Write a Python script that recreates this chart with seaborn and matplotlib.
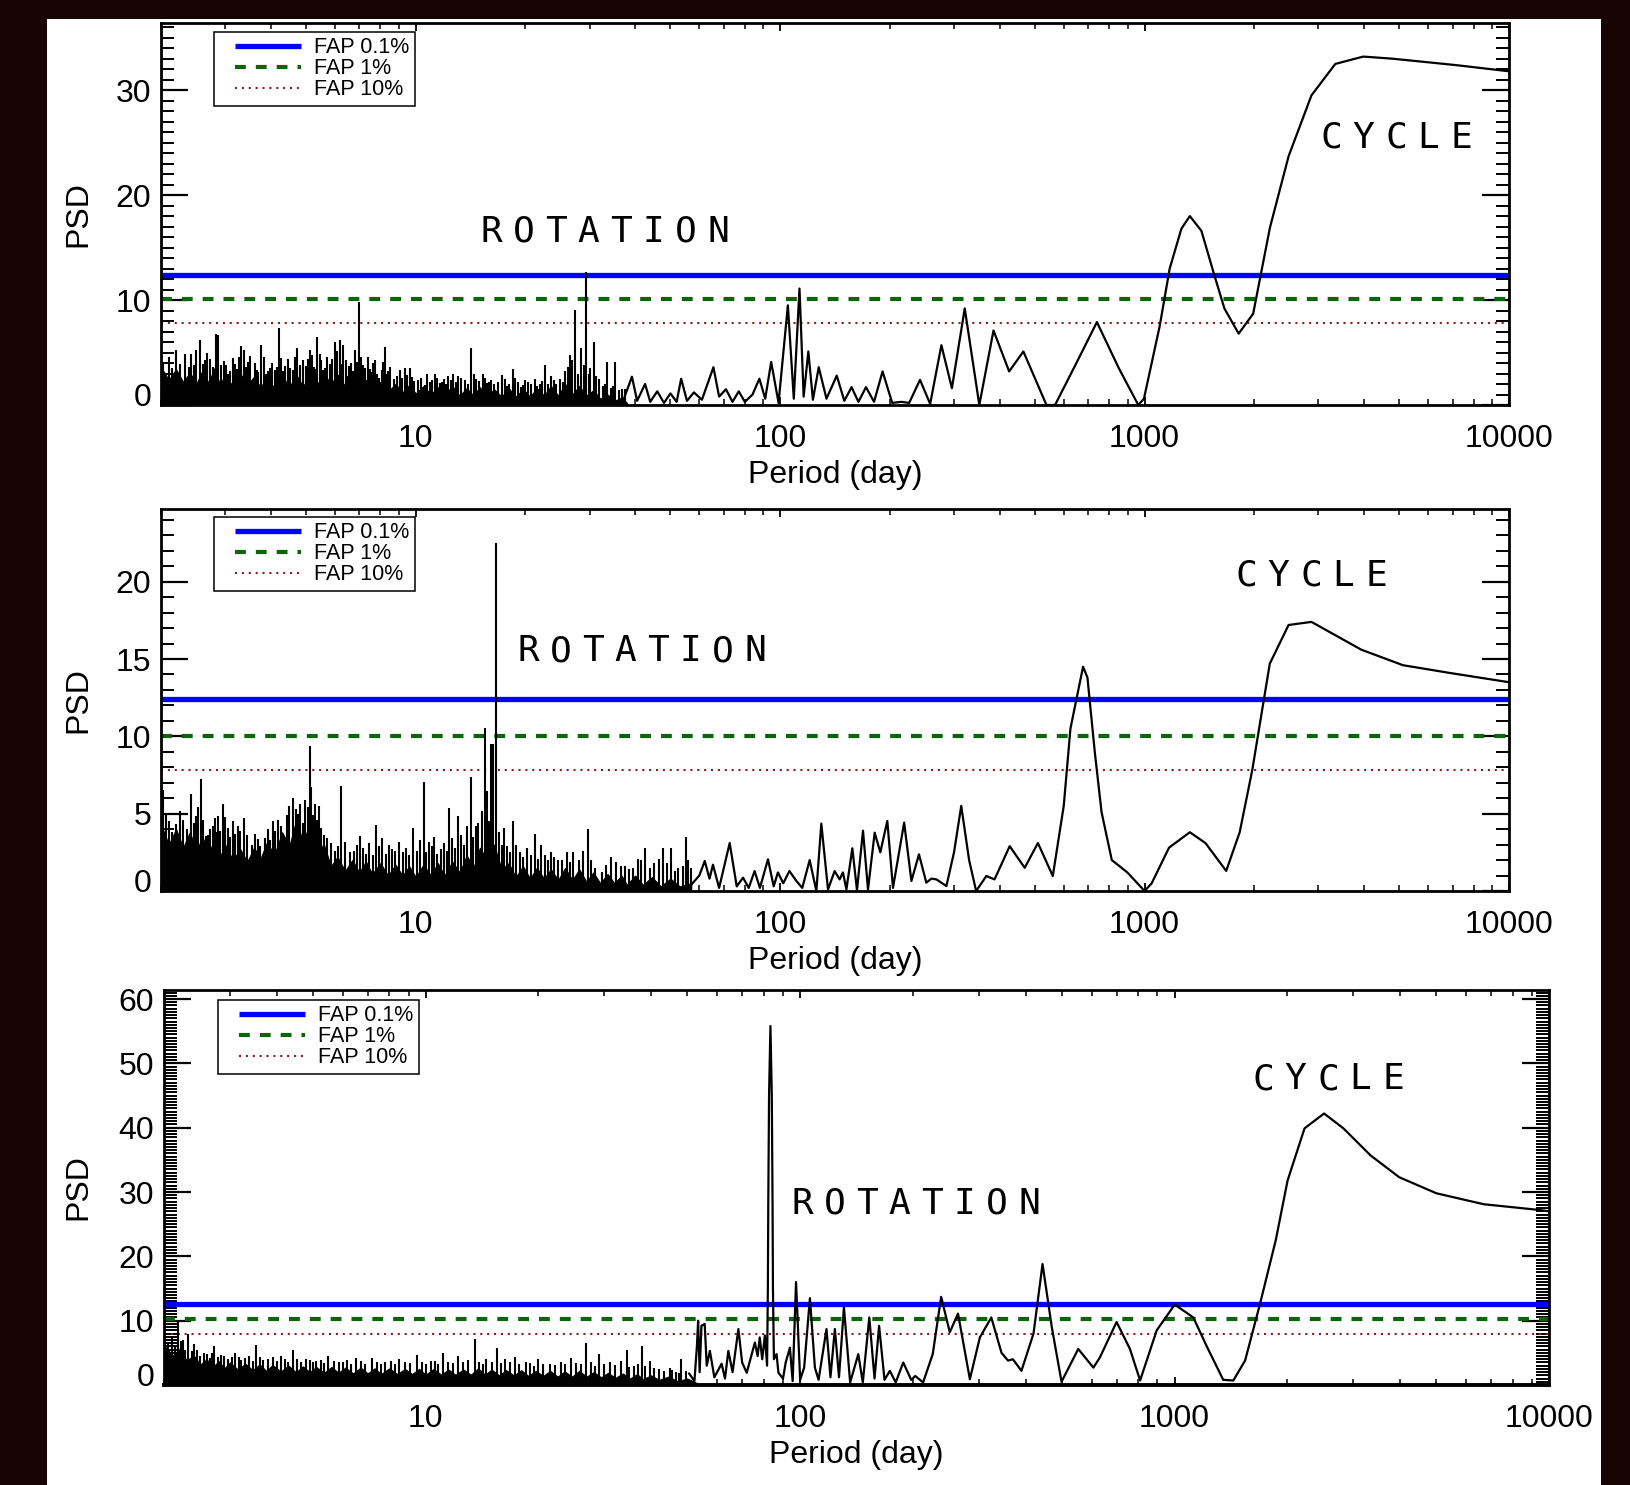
import numpy as np
import matplotlib
matplotlib.use("Agg")
import matplotlib.pyplot as plt
import matplotlib.ticker as mticker
from matplotlib.transforms import ScaledTranslation
from matplotlib.patches import Rectangle
from matplotlib.lines import Line2D
from matplotlib.legend_handler import HandlerLine2D
import seaborn as sns

sns.set_style("white", {"axes.edgecolor": "black", "text.color": "black",
                        "xtick.color": "black", "ytick.color": "black",
                        "axes.labelcolor": "black"})
plt.rcParams["font.family"] = ["Liberation Sans", "DejaVu Sans"]

# ---------------- data ----------------
x_ticks = [10, 100, 1000, 10000]
x_tick_labels = ["10", "100", "1000", "10000"]
fap_labels = ["FAP 0.1%", "FAP 1%", "FAP 10%"]

# FAP thresholds (0.1%, 1%, 10%) per panel
p1_fap = [12.4, 10.1, 7.8]
p2_fap = [12.4, 10.0, 7.8]
p3_fap = [12.6, 10.2, 8.0]

p1_yticks = [0, 10, 20, 30]
p2_yticks = [0, 5, 10, 15, 20]
p3_yticks = [0, 10, 20, 30, 40, 50, 60]

# dense short-period noise: jagged top of the black mass (period, PSD)
p1_band = [(2.0, 3.6), (2.1, 2.4), (2.2, 3.4), (2.3, 2.2), (2.4, 3.1), (2.5, 2.0), (2.6, 3.3),
           (2.7, 2.1), (2.8, 3.5), (2.9, 2.0), (3.0, 2.8), (3.15, 1.8), (3.3, 3.0), (3.45, 1.9),
           (3.6, 2.7), (3.75, 1.7), (3.9, 2.6), (4.1, 1.6), (4.3, 2.8), (4.5, 1.7), (4.7, 2.9),
           (4.9, 1.8), (5.1, 2.6), (5.35, 1.9), (5.6, 3.0), (5.85, 2.0), (6.1, 2.9), (6.4, 1.8),
           (6.7, 2.6), (7.0, 1.7), (7.3, 2.4), (7.6, 1.5), (8.0, 2.2), (8.4, 1.3), (8.8, 2.0),
           (9.2, 1.2), (9.6, 1.9), (10.0, 1.1), (10.5, 1.8), (11.0, 1.0), (11.5, 1.7), (12.0, 1.0),
           (12.6, 1.8), (13.2, 0.9), (13.8, 1.6), (14.4, 0.9), (15.0, 1.7), (15.7, 0.8), (16.4, 1.5),
           (17.2, 0.8), (18.0, 1.6), (18.8, 0.8), (19.7, 1.5), (20.6, 0.8), (21.5, 1.6), (22.5, 0.9),
           (23.5, 1.8), (24.6, 0.9), (25.7, 2.0), (26.9, 1.0), (28.1, 1.8), (29.4, 0.9), (30.7, 1.4),
           (32.1, 0.6), (33.6, 1.0), (35.1, 0.4), (36.7, 0.7), (38.0, 0.2)]
p2_band = [(2.0, 4.3), (2.1, 3.0), (2.2, 4.0), (2.3, 2.8), (2.4, 3.8), (2.5, 2.6), (2.6, 3.5),
           (2.7, 2.4), (2.8, 3.3), (2.9, 2.2), (3.0, 3.0), (3.15, 2.0), (3.3, 2.7), (3.45, 1.9),
           (3.6, 2.8), (3.75, 2.1), (3.9, 3.1), (4.1, 2.4), (4.3, 3.8), (4.5, 2.9), (4.7, 4.6),
           (4.9, 3.2), (5.1, 4.2), (5.35, 2.6), (5.6, 3.0), (5.85, 1.6), (6.1, 2.2), (6.4, 1.3),
           (6.7, 2.0), (7.0, 1.2), (7.3, 1.9), (7.6, 1.1), (8.0, 1.8), (8.4, 1.0), (8.8, 1.7),
           (9.2, 1.0), (9.6, 1.6), (10.0, 0.9), (10.5, 1.7), (11.0, 1.0), (11.5, 1.8), (12.0, 1.0),
           (12.6, 1.9), (13.2, 1.2), (13.8, 2.3), (14.4, 1.5), (15.0, 2.8), (15.7, 2.0), (16.4, 3.0),
           (17.2, 1.4), (18.0, 1.8), (18.8, 0.9), (19.7, 1.6), (20.6, 0.8), (21.5, 1.5), (22.5, 0.8),
           (23.5, 1.4), (24.6, 0.7), (25.7, 1.5), (26.9, 0.7), (28.1, 1.4), (29.4, 0.6), (30.7, 1.2),
           (32.1, 0.5), (33.6, 1.1), (35.1, 0.5), (36.7, 1.0), (38.0, 0.4), (40.0, 1.0), (42.0, 0.4),
           (44.5, 0.9), (47.0, 0.3), (50.0, 0.8), (53.0, 0.3), (57.0, 0.5)]
p3_band = [(2.0, 6.5), (2.1, 4.5), (2.2, 5.6), (2.3, 3.8), (2.4, 4.6), (2.5, 3.2), (2.6, 4.0),
           (2.7, 2.8), (2.8, 3.7), (2.9, 2.6), (3.0, 3.5), (3.15, 2.4), (3.3, 3.3), (3.45, 2.3),
           (3.6, 3.2), (3.75, 2.2), (3.9, 3.1), (4.1, 2.1), (4.3, 3.0), (4.5, 2.0), (4.7, 2.9),
           (4.9, 2.0), (5.1, 2.8), (5.35, 1.9), (5.6, 2.8), (5.85, 1.9), (6.1, 2.7), (6.4, 1.8),
           (6.7, 2.7), (7.0, 1.8), (7.3, 2.6), (7.6, 1.7), (8.0, 2.6), (8.4, 1.7), (8.8, 2.5),
           (9.2, 1.7), (9.6, 2.5), (10.0, 1.6), (10.5, 2.5), (11.0, 1.6), (11.5, 2.4), (12.0, 1.6),
           (12.6, 2.4), (13.2, 1.6), (13.8, 2.6), (14.4, 1.6), (15.0, 2.4), (15.7, 1.5), (16.4, 2.3),
           (17.2, 1.5), (18.0, 2.3), (18.8, 1.4), (19.7, 2.2), (20.6, 1.4), (21.5, 2.2), (22.5, 1.3),
           (23.5, 2.1), (24.6, 1.3), (25.7, 2.2), (26.9, 1.3), (28.1, 2.0), (29.4, 1.2), (30.7, 1.9),
           (32.1, 1.1), (33.6, 1.8), (35.1, 1.0), (36.7, 1.7), (38.0, 0.9), (40.0, 1.5), (42.0, 0.8),
           (44.5, 1.3), (47.0, 0.6), (50.0, 1.0), (53.0, 0.3)]

# individual spikes in the short-period noise (period, PSD)
p1_spikes = [(2.03, 4.0), (2.10, 4.6), (2.15, 3.5), (2.205, 5.2), (2.26, 3.9), (2.324, 4.9),
             (2.38, 3.6), (2.424, 4.9), (2.47, 3.8), (2.502, 5.2), (2.555, 6.2), (2.60, 3.9),
             (2.637, 4.3), (2.68, 5.0), (2.721, 4.4), (2.78, 3.6), (2.827, 6.8), (2.869, 6.7),
             (2.93, 3.8), (2.98, 4.2), (3.023, 3.8), (3.06, 3.0), (3.09, 3.2), (3.153, 4.5),
             (3.19, 3.9), (3.23, 3.4), (3.27, 4.6), (3.311, 5.6), (3.381, 5.2), (3.42, 3.6),
             (3.467, 4.1), (3.52, 4.7), (3.617, 4.0), (3.66, 3.3), (3.70, 3.1), (3.773, 5.7),
             (3.83, 4.6), (3.88, 3.0), (3.93, 3.2), (3.976, 3.5), (4.03, 4.0), (4.10, 3.3),
             (4.16, 3.6), (4.209, 7.35), (4.27, 4.5), (4.325, 3.2), (4.39, 3.7), (4.464, 4.4),
             (4.53, 3.5), (4.60, 3.3), (4.67, 4.6), (4.735, 5.4), (4.82, 3.8), (4.908, 4.3),
             (5.0, 3.7), (5.06, 4.4), (5.12, 5.2), (5.19, 4.8), (5.25, 3.6), (5.31, 3.4),
             (5.362, 6.5), (5.45, 4.9), (5.51, 4.3), (5.57, 3.3), (5.627, 3.5), (5.70, 4.6),
             (5.80, 3.9), (5.88, 4.4), (5.994, 6.0), (6.09, 5.1), (6.186, 6.2), (6.25, 3.9),
             (6.317, 5.7), (6.42, 4.3), (6.52, 2.8), (6.58, 3.7), (6.65, 4.0), (6.72, 3.2),
             (6.801, 5.2), (6.88, 4.1), (6.99, 9.8), (7.08, 4.6), (7.17, 3.8), (7.28, 3.5),
             (7.399, 4.6), (7.47, 3.4), (7.55, 3.1), (7.63, 4.0), (7.718, 4.3), (7.84, 3.0),
             (7.95, 2.6), (8.06, 3.3), (8.14, 4.1), (8.222, 5.5), (8.31, 3.0), (8.397, 3.2),
             (8.52, 3.6), (8.70, 2.5), (8.87, 2.8), (9.041, 3.3), (9.18, 2.6), (9.329, 3.5),
             (9.47, 2.9), (9.627, 3.5), (9.76, 2.7), (9.90, 2.3), (10.15, 2.4), (10.35, 2.6),
             (10.58, 1.9), (10.76, 3.0), (10.95, 2.2), (11.10, 2.4), (11.27, 3.0), (11.46, 2.6),
             (11.64, 2.1), (11.80, 2.2), (11.95, 2.5), (12.1, 2.0), (12.27, 2.8), (12.47, 2.4),
             (12.66, 3.0), (12.86, 2.2), (13.07, 2.8), (13.33, 2.6), (13.63, 2.4), (13.9, 2.0),
             (14.21, 5.4), (14.45, 3.0), (14.67, 2.5), (14.95, 2.3), (15.30, 3.0), (15.5, 2.6),
             (15.70, 2.1), (15.92, 2.2), (16.13, 2.4), (16.45, 2.0), (16.82, 2.2), (17.2, 2.9),
             (17.54, 2.5), (17.8, 1.8), (18.00, 2.0), (18.49, 3.4), (18.78, 2.6), (19.09, 2.2),
             (19.4, 1.7), (19.70, 1.9), (20.0, 2.4), (20.33, 2.2), (20.75, 2.0), (21.21, 2.5),
             (21.55, 1.8), (21.90, 2.0), (22.2, 2.3), (22.59, 3.8), (23.1, 2.0), (23.56, 2.8),
             (23.9, 2.4), (24.20, 2.0), (24.84, 2.5), (25.3, 2.2), (25.70, 3.2), (26.1, 3.6),
             (26.50, 4.8), (26.9, 4.3), (27.30, 9.1), (27.90, 3.0), (28.40, 5.4), (28.9, 3.8),
             (29.40, 12.7), (29.8, 3.0), (30.00, 3.5), (30.80, 6.0), (31.2, 2.8), (31.80, 2.5),
             (32.60, 1.8), (33.0, 2.0), (33.40, 4.1), (34.30, 1.6), (34.8, 1.8), (35.30, 4.1),
             (36.20, 1.4), (36.8, 1.5), (37.50, 1.5)]
p2_spikes = [(2.02, 6.5), (2.06, 5.0), (2.1, 4.5), (2.14, 3.8), (2.2, 4.3), (2.26, 5.2), (2.3, 4.6),
             (2.36, 4.0), (2.424, 6.26), (2.46, 4.4), (2.5, 4.85), (2.53, 5.4), (2.571, 7.23),
             (2.61, 4.6), (2.65, 3.56), (2.69, 3.6), (2.73, 4.0), (2.77, 4.2), (2.81, 4.75),
             (2.84, 3.8), (2.87, 4.85), (2.91, 3.9), (2.95, 5.61), (3.00, 4.8), (3.05, 4.1),
             (3.10, 3.5), (3.15, 4.53), (3.20, 3.7), (3.25, 4.2), (3.30, 3.9), (3.381, 4.7),
             (3.45, 3.6), (3.55, 3.0), (3.62, 3.7), (3.68, 3.34), (3.75, 2.9), (3.85, 3.4),
             (3.92, 4.0), (3.98, 3.3), (4.05, 4.53), (4.12, 3.9), (4.19, 4.57), (4.27, 4.2),
             (4.35, 3.2), (4.42, 4.9), (4.50, 5.5), (4.6, 6.04), (4.68, 5.3), (4.75, 5.0),
             (4.82, 5.6), (4.9, 4.4), (4.98, 5.9), (5.05, 5.4), (5.12, 9.39), (5.17, 6.7),
             (5.24, 4.9), (5.3, 5.6), (5.36, 4.6), (5.42, 5.5), (5.50, 4.1), (5.6, 3.6),
             (5.7, 3.45), (5.85, 3.1), (6.0, 2.6), (6.12, 2.9), (6.25, 6.8), (6.4, 3.2),
             (6.6, 2.5), (6.75, 2.6), (6.9, 3.0), (7.05, 3.56), (7.17, 2.8), (7.3, 2.4),
             (7.45, 3.1), (7.62, 2.3), (7.8, 4.27), (7.95, 2.9), (8.1, 3.4), (8.3, 2.4),
             (8.45, 3.0), (8.6, 2.7), (8.8, 2.6), (9.0, 3.2), (9.2, 2.5), (9.4, 2.8), (9.6, 2.3),
             (9.83, 4.1), (10.1, 2.6), (10.3, 3.3), (10.54, 7.08), (10.7, 2.5), (10.9, 3.2),
             (11.05, 2.9), (11.2, 3.5), (11.45, 2.4), (11.7, 2.7), (11.95, 3.1), (12.15, 2.6),
             (12.34, 5.35), (12.6, 3.4), (12.85, 2.8), (13.07, 4.85), (13.3, 3.6), (13.6, 3.0),
             (13.8, 4.2), (14.16, 7.38), (14.35, 3.5), (14.6, 4.2), (14.85, 4.4), (15.2, 5.2),
             (15.46, 10.57), (15.7, 6.46), (15.9, 4.5), (16.06, 9.5), (16.2, 5.0), (16.3, 9.5),
             (16.64, 22.5), (16.9, 3.8), (17.2, 3.0), (17.47, 4.1), (17.8, 2.9), (18.2, 2.5),
             (18.49, 4.5), (18.8, 3.0), (19.3, 2.5), (19.7, 2.2), (20.2, 2.8), (20.7, 2.3),
             (21.21, 3.7), (21.7, 2.1), (22.12, 3.0), (22.7, 2.3), (23.0, 2.0), (23.5, 2.5),
             (24.0, 2.2), (24.57, 2.0), (25.2, 2.0), (26.0, 2.5), (26.5, 1.9), (27.0, 2.5),
             (28.0, 2.0), (28.8, 2.6), (29.7, 4.0), (30.3, 2.0), (31.0, 1.5), (32.5, 1.2),
             (33.3, 1.7), (34.4, 2.2), (35.5, 1.9), (36.5, 1.6), (37.5, 1.6), (38.5, 1.4),
             (39.5, 1.5), (40.8, 2.05), (41.5, 2.0), (42.5, 2.8), (44.0, 1.5), (45.0, 1.8),
             (46.5, 2.1), (47.7, 2.8), (49.0, 1.8), (50.2, 2.8), (51.5, 1.3), (52.5, 1.5),
             (54.0, 1.6), (55.0, 3.5), (56.0, 2.0), (57.0, 1.5)]
p3_spikes = [(2.02, 5.5), (2.05, 6.5), (2.1, 7.5), (2.14, 6.0), (2.18, 9.8), (2.22, 6.8), (2.25, 7.0),
             (2.28, 5.5), (2.32, 8.0), (2.38, 5.3), (2.41, 6.3), (2.45, 5.5), (2.5, 4.5), (2.55, 5.0),
             (2.6, 4.8), (2.65, 4.2), (2.68, 5.0), (2.72, 6.0), (2.78, 4.3), (2.84, 4.7), (2.9, 4.5),
             (2.96, 4.0), (3.03, 4.3), (3.1, 5.0), (3.17, 4.4), (3.22, 3.9), (3.3, 4.2), (3.38, 4.5),
             (3.45, 3.8), (3.52, 6.2), (3.6, 4.3), (3.68, 3.9), (3.8, 4.0), (3.9, 4.4), (4.0, 3.8),
             (4.1, 4.5), (4.2, 4.1), (4.3, 3.6), (4.42, 5.5), (4.52, 4.0), (4.65, 3.5), (4.8, 4.0),
             (4.9, 3.9), (5.0, 3.5), (5.1, 3.8), (5.25, 3.9), (5.35, 3.4), (5.5, 4.5), (5.68, 3.8),
             (5.85, 3.5), (6.0, 3.6), (6.15, 3.9), (6.3, 3.3), (6.5, 4.2), (6.7, 3.8), (6.9, 3.3),
             (7.17, 4.2), (7.4, 3.6), (7.6, 3.2), (7.8, 3.5), (8.1, 3.7), (8.3, 3.2), (8.5, 4.0),
             (8.8, 3.6), (9.1, 3.4), (9.5, 4.7), (9.8, 3.6), (10.0, 3.2), (10.3, 3.8), (10.6, 3.7),
             (10.8, 3.3), (11.1, 5.0), (11.5, 3.6), (11.8, 3.4), (12.2, 4.5), (12.6, 3.5),
             (13.0, 3.9), (13.5, 7.2), (13.9, 3.6), (14.2, 3.3), (14.5, 4.0), (15.0, 3.6),
             (15.5, 5.8), (15.9, 3.4), (16.3, 4.0), (16.8, 3.6), (17.3, 4.3), (17.8, 3.3),
             (18.5, 3.5), (19.0, 3.4), (19.5, 3.0), (20.0, 4.0), (20.6, 3.3), (21.5, 3.2),
             (22.2, 3.1), (23.0, 3.6), (23.6, 3.3), (24.5, 4.2), (25.2, 3.4), (26.0, 3.2),
             (26.8, 6.6), (27.6, 3.6), (28.3, 3.0), (29.0, 4.8), (30.0, 3.3), (31.0, 3.5),
             (32.0, 3.1), (33.3, 3.8), (34.4, 5.5), (35.0, 2.8), (36.0, 3.0), (36.8, 3.2),
             (37.7, 6.1), (38.6, 3.0), (39.6, 3.8), (40.8, 2.6), (42.0, 2.5), (43.4, 2.2),
             (44.8, 2.7), (45.6, 2.4), (46.5, 2.0), (47.4, 1.9), (48.2, 4.0), (49.5, 2.2)]

# resolved part of the periodogram (period, PSD)
p1_curve = [(37.0, 0.3), (39.2, 2.7), (40.5, 0.4), (42.6, 2.0), (44.0, 0.3), (46.0, 1.3), (48.0, 0.2),
            (50.0, 1.1), (52.0, 0.3), (53.5, 2.5), (55.5, 0.4), (58.0, 1.2), (61.0, 0.5), (65.6, 3.6),
            (68.0, 0.8), (71.0, 1.5), (74.0, 0.3), (77.0, 1.3), (80.0, 0.3), (84.0, 1.0), (87.7, 2.5),
            (91.0, 0.6), (94.5, 4.1), (99.0, 0.2), (105.0, 9.5), (109.0, 0.6), (113.0, 11.1),
            (116.0, 0.8), (119.5, 5.1), (123.0, 0.5), (127.6, 3.6), (134.0, 0.6), (143.0, 2.8),
            (150.0, 0.4), (157.0, 1.7), (164.0, 0.3), (172.0, 1.7), (181.0, 0.3), (191.0, 3.2),
            (203.0, 0.2), (215.0, 0.3), (226.0, 0.2), (242.0, 2.4), (258.0, 0.1), (277.0, 5.7),
            (296.0, 1.6), (321.0, 9.2), (352.0, 0.0), (385.0, 7.1), (425.0, 3.2), (465.0, 5.1),
            (538.0, 0.0), (568.0, 0.0), (650.0, 4.0), (740.0, 7.9), (850.0, 3.5), (961.0, 0.0),
            (996.0, 0.6), (1100.0, 7.5), (1172.0, 13.0), (1262.0, 16.8), (1331.0, 18.0),
            (1432.0, 16.6), (1550.0, 12.5), (1656.0, 9.2), (1812.0, 6.8), (1986.0, 8.7),
            (2208.0, 16.9), (2484.0, 23.7), (2870.0, 29.5), (3337.0, 32.5), (3981.0, 33.2),
            (4786.0, 33.0), (7096.0, 32.4), (10000.0, 31.8)]
p2_curve = [(57.0, 0.4), (60.0, 1.0), (62.1, 1.94), (64.0, 0.8), (65.4, 1.7), (68.0, 0.2), (72.7, 3.1),
            (76.0, 0.3), (79.1, 0.86), (82.0, 0.2), (85.1, 1.29), (88.0, 0.2), (92.6, 2.05), (96.0, 0.3),
            (98.6, 1.2), (102.0, 0.5), (106.0, 1.29), (110.8, 0.65), (115.0, 0.2), (120.5, 2.0),
            (125.7, 0.0), (129.7, 4.36), (135.3, 0.1), (141.1, 1.29), (145.6, 0.75), (148.7, 1.2),
            (152.0, 0.1), (157.8, 2.76), (162.5, 0.05), (168.8, 3.9), (174.2, 0.1), (181.7, 3.77),
            (188.3, 2.5), (196.8, 4.53), (204.0, 0.2), (218.9, 4.42), (229.2, 0.65), (240.4, 2.37),
            (251.8, 0.54), (260.0, 0.8), (268.4, 0.75), (285.9, 0.32), (300.0, 2.5), (314.0, 5.5),
            (330.0, 2.0), (345.0, 0.0), (368.0, 0.97), (387.5, 0.75), (426.5, 2.9), (468.9, 1.5),
            (509.7, 3.1), (560.0, 0.97), (600.0, 5.5), (626.0, 10.5), (678.0, 14.5), (697.0, 13.8),
            (730.0, 9.0), (762.0, 5.1), (813.0, 2.0), (897.0, 1.2), (1000.0, 0.0), (1046.0, 0.5),
            (1167.0, 2.8), (1331.0, 3.8), (1469.0, 3.1), (1675.0, 1.3), (1824.0, 3.8), (1974.0, 7.8),
            (2206.0, 14.7), (2484.0, 17.2), (2870.0, 17.4), (3936.0, 15.6), (5116.0, 14.6),
            (6876.0, 14.1), (10000.0, 13.5)]
p3_curve = [(50.5, 1.8), (52.2, 0.6), (53.0, 6.0), (53.4, 10.0), (53.9, 2.0), (54.5, 9.2), (55.6, 9.5),
            (56.3, 3.0), (57.4, 5.3), (59.0, 1.2), (61.7, 3.3), (63.0, 1.0), (64.3, 5.3), (66.0, 2.0),
            (68.4, 8.7), (70.0, 3.5), (72.0, 1.9), (75.7, 6.6), (77.0, 4.5), (78.0, 7.4), (79.2, 4.0),
            (80.5, 7.7), (81.6, 3.0), (82.0, 15.0), (82.2, 28.0), (82.6, 45.0), (83.3, 55.8),
            (84.0, 45.0), (84.4, 28.0), (84.6, 15.0), (85.1, 4.0), (86.5, 4.8), (87.5, 1.9),
            (90.0, 1.0), (91.5, 3.5), (93.9, 5.8), (95.5, 0.6), (97.5, 16.0), (100.0, 0.8),
            (102.5, 2.7), (106.2, 13.5), (109.5, 2.7), (112.0, 0.8), (117.6, 8.7), (120.5, 1.2),
            (123.8, 8.7), (127.0, 1.2), (130.9, 12.1), (136.0, 0.4), (143.0, 4.8), (147.0, 0.4),
            (153.0, 10.5), (158.0, 1.0), (162.5, 9.2), (168.0, 0.8), (173.6, 2.2), (180.0, 0.4),
            (188.5, 3.5), (198.0, 0.8), (203.0, 1.4), (213.0, 0.4), (226.0, 4.8), (238.0, 13.7),
            (251.0, 8.2), (264.0, 11.1), (284.0, 0.9), (302.0, 7.4), (324.0, 10.5), (345.0, 5.0),
            (359.0, 3.8), (370.0, 4.0), (390.0, 2.2), (420.0, 8.0), (444.0, 18.8), (470.0, 9.0),
            (499.0, 0.5), (553.0, 5.6), (607.0, 2.7), (632.0, 4.3), (700.0, 9.8), (760.0, 5.6),
            (809.0, 0.7), (896.0, 8.5), (1001.0, 12.5), (1122.0, 10.5), (1219.0, 6.0), (1349.0, 0.8),
            (1435.0, 0.7), (1543.0, 3.8), (1691.0, 12.6), (1863.0, 22.5), (2004.0, 31.8),
            (2224.0, 39.9), (2508.0, 42.2), (2824.0, 39.9), (3336.0, 35.7), (3980.0, 32.3),
            (5004.0, 29.8), (6693.0, 28.1), (9441.0, 27.2), (10000.0, 27.0)]

# ---------------- figure ----------------
W, H, DPI = 1630, 1485, 100
BG = "#180303"
BLUE, GREEN, RED = "#0000ff", "#0b650b", "#8b1c1c"
LEG_FS = 15.5

fig = plt.figure(figsize=(W / DPI, H / DPI), dpi=DPI, facecolor=BG)
fig.patches.append(Rectangle((47 / W, 0), 1554 / W, 1466 / H, transform=fig.transFigure,
                             facecolor="white", edgecolor="none", zorder=-5))


def split(pairs):
    a = np.array(pairs, dtype=float)
    return a[:, 0], a[:, 1]


def make_panel(px_box, band, spikes, curve, fap, yticks, ymax, yminor, leg_px, bottom_lw=2.0):
    x0, y0, x1, y1 = px_box
    ax = fig.add_axes([x0 / W, 1 - y1 / H, (x1 - x0) / W, (y1 - y0) / H])
    ax.set_facecolor("white")
    ax.set_xscale("log")

    styles = [dict(color=BLUE, lw=3.8, solid_capstyle="butt"),
              dict(color=GREEN, lw=3.0, dashes=(2.6, 2.4)),
              dict(color=RED, lw=1.5, dashes=(1.0, 2.3))]
    for val, st in zip(fap, styles):
        ax.axhline(val, zorder=2, **st)

    bp, bv = split(band)
    ax.fill_between(bp, 0, bv, color="black", lw=0.8, zorder=3)
    sp, sv = split(spikes)
    ax.vlines(sp, 0, sv, color="black", lw=1.5, zorder=3)
    cp, cv = split(curve)
    sns.lineplot(x=cp, y=cv, ax=ax, color="black", linewidth=1.6,
                 estimator=None, sort=False, zorder=4)

    ax.set_xlim(2, 10000)
    ax.set_ylim(0, ymax)
    ax.xaxis.set_major_locator(mticker.FixedLocator(x_ticks))
    ax.xaxis.set_major_formatter(mticker.FixedFormatter(x_tick_labels))
    ax.xaxis.set_minor_locator(mticker.LogLocator(base=10, subs=np.arange(2, 10), numticks=30))
    ax.xaxis.set_minor_formatter(mticker.NullFormatter())
    ax.yaxis.set_major_locator(mticker.FixedLocator(yticks))
    ax.yaxis.set_minor_locator(mticker.MultipleLocator(yminor))

    ax.tick_params(axis="x", which="major", direction="in", length=6, width=1.3,
                   top=True, bottom=True, labelsize=23, pad=14, colors="black")
    ax.tick_params(axis="x", which="minor", direction="in", length=4, width=1.1,
                   top=True, bottom=True)
    ax.tick_params(axis="y", which="major", direction="in", length=19.5, width=1.6,
                   left=True, right=True, labelsize=23, pad=7, colors="black")
    ax.tick_params(axis="y", which="minor", direction="in", length=9.5, width=1.4,
                   left=True, right=True)
    for s in ax.spines.values():
        s.set_linewidth(2.0)
        s.set_color("black")
    ax.spines["bottom"].set_linewidth(bottom_lw)

    # zero label sits a little above its tick
    t0 = ax.yaxis.get_major_ticks(len(yticks))[0]
    t0.label1.set_transform(t0.label1.get_transform() +
                            ScaledTranslation(0, 0.11, fig.dpi_scale_trans))

    ax.set_xlabel("Period (day)", fontsize=23, va="center")
    ax.xaxis.set_label_coords(0.5, -70 / (y1 - y0))
    ax.set_ylabel("PSD", fontsize=23, va="center")
    ax.yaxis.set_label_coords((78 - x0) / (x1 - x0), 0.5)

    handles = [Line2D([], [], **styles[0]), Line2D([], [], **styles[1]), Line2D([], [], **styles[2])]
    lx, ly = leg_px
    leg = ax.legend(handles, fap_labels, loc="upper left",
                    bbox_to_anchor=((lx - x0) / (x1 - x0), (y1 - ly) / (y1 - y0)),
                    borderaxespad=0, frameon=True, fancybox=False, shadow=False,
                    edgecolor="black", framealpha=1, fontsize=LEG_FS, handlelength=3.8,
                    handletextpad=0.6, labelspacing=0.0, borderpad=0.25,
                    handler_map={Line2D: HandlerLine2D(xpad=0.73)})
    leg.get_frame().set_linewidth(1.1)
    return ax


make_panel((161, 23, 1509, 405), p1_band, p1_spikes, p1_curve, p1_fap, p1_yticks, 36.4, 1, (214, 32))
make_panel((161, 509, 1509, 891), p2_band, p2_spikes, p2_curve, p2_fap, p2_yticks, 24.7, 1, (214, 517))
make_panel((164, 990, 1549, 1385), p3_band, p3_spikes, p3_curve, p3_fap, p3_yticks, 61.4, 0.5,
           (218, 1000), bottom_lw=2.8)


def spaced(word, x_first, y_base, pitch=32.5):
    for i, ch in enumerate(word):
        fig.text((x_first + i * pitch) / W, 1 - y_base / H, ch, family="DejaVu Sans Mono",
                 fontsize=26, ha="center", va="baseline", color="black")


spaced("ROTATION", 491, 242)
spaced("CYCLE", 1331, 148)
spaced("ROTATION", 528, 661)
spaced("CYCLE", 1246, 586)
spaced("ROTATION", 802, 1214)
spaced("CYCLE", 1263, 1089)

fig.savefig("out.png", dpi=DPI, facecolor=BG)
